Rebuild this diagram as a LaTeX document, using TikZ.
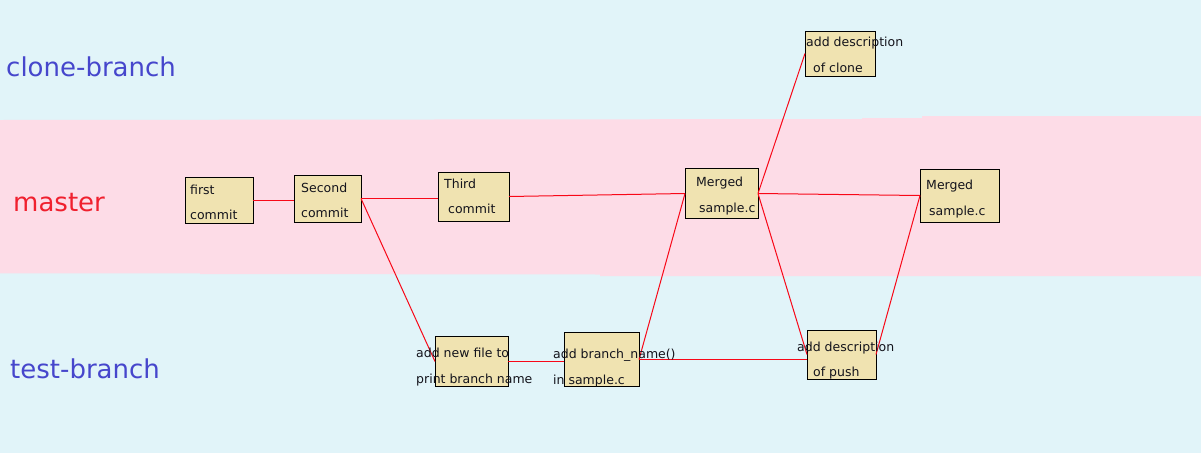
\documentclass[tikz,border=0pt]{standalone}
\usepackage{fontspec}
\setmainfont{DejaVu Sans}
\definecolor{skybg}{HTML}{E1F4F9}
\definecolor{masterbg}{HTML}{FDDCE7}
\definecolor{boxfill}{HTML}{F0E3B1}
\definecolor{branchblue}{HTML}{4646CC}
\definecolor{masterred}{HTML}{F0202E}
\definecolor{linkred}{HTML}{F80818}
\definecolor{inkdark}{HTML}{14141C}
\begin{document}
\begin{tikzpicture}[x=1pt,y=-1pt,
  commitbox/.style={draw=black,line width=1pt,fill=boxfill,inner sep=0pt,outer sep=0pt},
  boxtext/.style={anchor=base west,inner sep=0pt,text=inkdark,font=\fontsize{12.5}{14}\selectfont},
  lanelabel/.style={anchor=base west,inner sep=0pt,font=\fontsize{26}{30}\selectfont},
  link/.style={draw=linkred,line width=1pt}]
\useasboundingbox (0,0) rectangle (1201,453);
% lanes
\fill[skybg] (0,0) rectangle (1201,453);
\fill[masterbg] (0,120) -- (862,119) -- (862,118) -- (922,118) -- (922,116) -- (1201,116)
  -- (1201,276) -- (600,276) -- (600,274.5) -- (200,274) -- (200,273.3) -- (0,273.3) -- cycle;
\node[lanelabel,text=branchblue] (lclone) at (6,76) {clone-branch};
\node[lanelabel,text=masterred] (lmaster) at (13,211) {master};
\node[lanelabel,text=branchblue] (ltest) at (10,378) {test-branch};
% commit boxes
\node[commitbox,minimum width=68,minimum height=46] (b1) at (219,200.5) {};
\node[commitbox,minimum width=67,minimum height=47] (b2) at (327.5,198.5) {};
\node[commitbox,minimum width=71,minimum height=49] (b3) at (473.5,196.5) {};
\node[commitbox,minimum width=73,minimum height=50] (m1) at (721.5,193.5) {};
\node[commitbox,minimum width=79,minimum height=53] (m2) at (959.5,195.5) {};
\node[commitbox,minimum width=70,minimum height=45] (cl) at (840,53.5) {};
\node[commitbox,minimum width=73,minimum height=50] (nf) at (471.5,361.5) {};
\node[commitbox,minimum width=75,minimum height=54] (bn) at (601.5,359.5) {};
\node[commitbox,minimum width=69,minimum height=49] (ps) at (841.5,354.5) {};
% history links
\path[link] (b1.east) -- (b1.east -| b2.west);
\path[link] (b2.east) -- (b2.east -| b3.west);
\path[link] (b3.east) -- (m1.west);
\path[link] (b2.east) -- (nf.west);
\path[link] (nf.east) -- (nf.east -| bn.west);
\path[link] (bn.east) -- (bn.east -| ps.west);
\path[link] (bn.east) -- (m1.west);
\path[link] (m1.east) -- (m2.west);
\path[link] (m1.east) -- (cl.west);
\path[link] (m1.east) -- (ps.west);
\path[link] (ps.east) -- (m2.west);
% commit messages
\node[boxtext] (t1a) at (190,194) {first};
\node[boxtext] (t1b) at (190,219) {commit};
\node[boxtext] (t2a) at (301,192) {Second};
\node[boxtext] (t2b) at (301,217) {commit};
\node[boxtext] (t3a) at (444,188) {Third};
\node[boxtext] (t3b) at (448,213) {commit};
\node[boxtext] (t4a) at (696,186.5) {Merged};
\node[boxtext] (t4b) at (699,212.5) {sample.c};
\node[boxtext] (t5a) at (926,189) {Merged};
\node[boxtext] (t5b) at (929,215) {sample.c};
\node[boxtext] (t6a) at (806,46) {add description};
\node[boxtext] (t6b) at (813,72) {of clone};
\node[boxtext] (t7a) at (416,357) {add new file to};
\node[boxtext] (t7b) at (416,383) {print branch name};
\node[boxtext] (t8a) at (553,358) {add branch\_name()};
\node[boxtext] (t8b) at (553,384) {in sample.c};
\node[boxtext] (t9a) at (797,351) {add description};
\node[boxtext] (t9b) at (813,376) {of push};
\end{tikzpicture}
\end{document}
